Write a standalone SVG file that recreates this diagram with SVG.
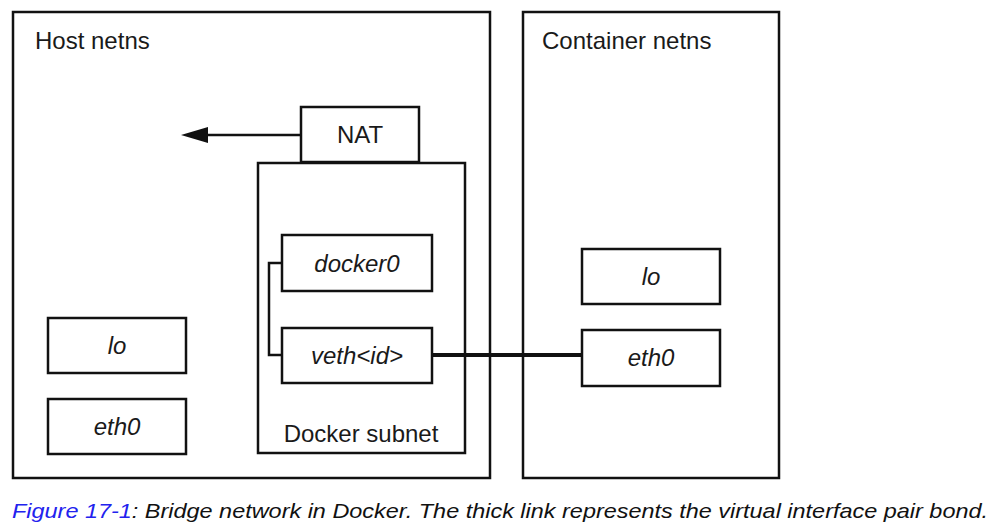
<svg xmlns="http://www.w3.org/2000/svg" width="999" height="530" viewBox="0 0 999 530">
<style>
.box{fill:#fff;stroke:#111;stroke-width:2.5}
.t{font-family:"Liberation Sans","DejaVu Sans",sans-serif;font-size:24px;fill:#1a1a1a}
.i{font-style:italic;text-anchor:middle}
.c{text-anchor:middle}
.ln{fill:none;stroke:#111;stroke-width:2.5}
</style>
<rect width="999" height="530" fill="#fff"/>
<g id="host">
<rect class="box" x="13" y="12" width="477" height="466"/>
<text class="t" x="35" y="49">Host netns</text>
</g>
<g id="container">
<rect class="box" x="523" y="12" width="256" height="466"/>
<text class="t" x="542" y="49">Container netns</text>
</g>
<g id="nat">
<rect class="box" x="301" y="107" width="118" height="55"/>
<text class="t c" x="360" y="143">NAT</text>
</g>
<g id="subnet">
<rect class="box" x="258" y="163" width="207" height="290"/>
<text class="t c" x="361" y="442">Docker subnet</text>
</g>
<g id="connectors">
<line class="ln" x1="301" y1="135" x2="205" y2="135"/>
<polygon points="181,135 208,127 208,143" fill="#111"/>
<polyline class="ln" points="282,263 269,263 269,355 282,355"/>
<line x1="432" y1="355" x2="582" y2="355" stroke="#111" stroke-width="4"/>
</g>
<g id="docker0">
<rect class="box" x="282" y="235" width="150" height="56"/>
<text class="t i" x="357" y="272">docker0</text>
</g>
<g id="veth">
<rect class="box" x="282" y="328" width="150" height="55"/>
<text class="t i" x="357" y="364">veth&lt;id&gt;</text>
</g>
<g id="host-lo">
<rect class="box" x="48" y="318" width="138" height="55"/>
<text class="t i" x="117" y="354">lo</text>
</g>
<g id="host-eth0">
<rect class="box" x="48" y="399" width="138" height="55"/>
<text class="t i" x="117" y="435">eth0</text>
</g>
<g id="cont-lo">
<rect class="box" x="582" y="249" width="138" height="55"/>
<text class="t i" x="651" y="285">lo</text>
</g>
<g id="cont-eth0">
<rect class="box" x="582" y="330" width="138" height="56"/>
<text class="t i" x="651" y="366">eth0</text>
</g>
<text x="12" y="518" font-family="'Liberation Sans',Arial,sans-serif" font-size="21" font-style="italic" textLength="976" lengthAdjust="spacingAndGlyphs"><tspan fill="#2222ee">Figure 17-1</tspan><tspan fill="#111">: Bridge network in Docker. The thick link represents the virtual interface pair bond.</tspan></text>
</svg>
